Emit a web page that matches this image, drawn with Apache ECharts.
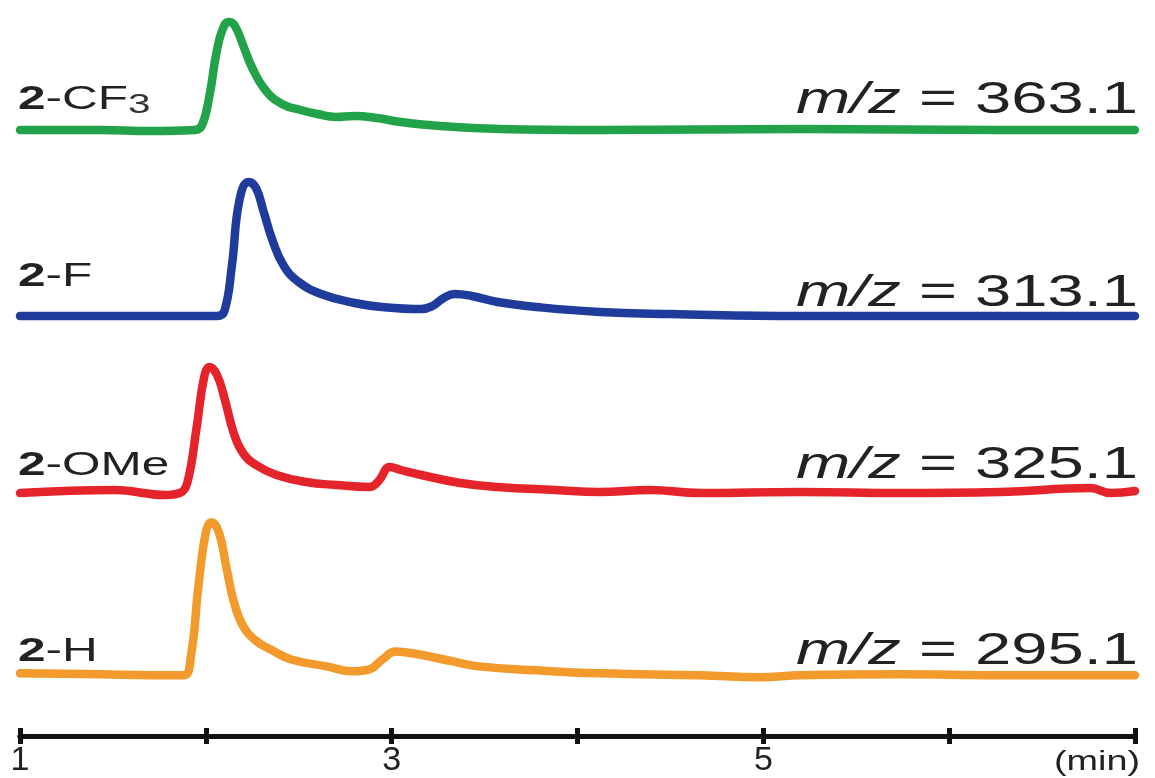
<!DOCTYPE html>
<html>
<head>
<meta charset="utf-8">
<script src="https://cdn.jsdelivr.net/npm/echarts@6/dist/echarts.min.js"></script>
<style>
html, body { margin: 0; background: #fff; }
#main { width: 1155px; height: 778px; }
</style>
</head>
<body>
<div id="main"></div>
<script>
// retention time (min) vs. relative intensity, one trace per compound
var traceCF3 = [[1.00,0],[1.43,0],[1.70,-1],[1.94,0],[1.98,5],[2.02,35],[2.06,80],[2.10,105],[2.13,108],[2.16,103],[2.20,85],[2.25,62],[2.32,40],[2.41,26],[2.51,20],[2.60,16],[2.70,13],[2.80,14],[2.92,12],[3.05,8],[3.26,4],[3.58,1],[4.12,0],[5.20,1],[6.27,0],[7.00,0]];
var traceF = [[1.00,0],[1.60,0],[2.06,0],[2.10,5],[2.14,50],[2.18,115],[2.23,134],[2.27,128],[2.31,105],[2.36,75],[2.42,50],[2.50,34],[2.62,22],[2.80,13],[2.95,9],[3.16,7],[3.22,10],[3.28,18],[3.34,22],[3.43,20],[3.57,14],[3.78,9],[4.12,4],[4.50,2],[5.20,0],[6.00,0],[7.00,0]];
var traceOMe = [[1.00,0],[1.51,3],[1.78,-2],[1.86,0],[1.90,10],[1.95,65],[1.99,115],[2.02,126],[2.06,118],[2.10,95],[2.15,60],[2.20,40],[2.27,28],[2.38,18],[2.54,11],[2.70,8],[2.88,6],[2.93,12],[2.99,26],[3.05,23],[3.16,18],[3.37,10],[3.57,6],[3.88,3],[4.12,1],[4.39,3],[4.66,0],[5.20,1],[5.74,0],[6.27,1],[6.76,5],[6.87,0],[7.00,2]];
var traceH = [[1.00,2],[1.43,1],[1.70,0],[1.88,0],[1.92,20],[1.96,90],[2.00,145],[2.03,155],[2.07,145],[2.11,110],[2.15,75],[2.20,50],[2.27,35],[2.35,26],[2.46,16],[2.65,9],[2.79,4],[2.88,6],[2.95,16],[3.02,24],[3.12,22],[3.33,14],[3.47,9],[3.78,5],[4.12,2],[4.66,0],[4.98,-2],[5.20,0],[5.74,1],[6.27,0],[7.00,0]];

var compoundNames = ['CF', 'F', 'OMe', 'H'];
var mzValues = ['363.1', '313.1', '325.1', '295.1'];
var axisTickLabels = [1, 3, 5];
var axisUnit = '(min)';

var traces = [traceCF3, traceF, traceOMe, traceH];
var colors = ['#22a34a', '#1f3c9c', '#e5232a', '#f29a2b'];
var baselines = [130, 316, 493, 677];
var nameY = [100, 277, 466, 652];
var mzY = [101, 294, 466, 652];
var font = 'Liberation Sans, Arial, sans-serif';

var grids = [], xAxes = [], yAxes = [], series = [], graphics = [];

baselines.forEach(function (b, i) {
    // 1 intensity unit = 1 px; peaks above 130 spill over the grid (clip off)
    grids.push({left: 20, right: 20, top: b - 130, height: 150});
    xAxes.push({gridIndex: i, type: 'value', min: 1, max: 7, show: false});
    yAxes.push({gridIndex: i, type: 'value', min: -20, max: 130, show: false});
    series.push({
        type: 'line',
        xAxisIndex: i,
        yAxisIndex: i,
        data: traces[i],
        showSymbol: false,
        smooth: 0.45,
        clip: false,
        lineStyle: {color: colors[i], width: 8.5, cap: 'round', join: 'round'}
    });

    var nameText = compoundNames[i] === 'CF' ? '{b|2}-CF{s|3}' : '{b|2}-' + compoundNames[i];
    graphics.push({
        type: 'text',
        x: 18, y: nameY[i],
        scaleX: 1.5,
        style: {
            text: nameText,
            fill: '#222',
            fontSize: 33,
            fontFamily: font,
            verticalAlign: 'middle',
            align: 'left',
            rich: {
                b: {fontWeight: 'bold', fontSize: 33, fontFamily: font, fill: '#222'},
                s: {fontSize: 27, fontFamily: font, fill: '#333', padding: [12, 0, 0, 0]}
            }
        }
    });
    graphics.push({
        type: 'text',
        x: 1138, y: mzY[i],
        scaleX: 1.48,
        style: {
            text: '{i|m/z} = ' + mzValues[i],
            fill: '#222',
            fontSize: 44,
            fontFamily: font,
            align: 'right',
            verticalAlign: 'middle',
            rich: {
                i: {fontStyle: 'italic', fontSize: 44, fontFamily: font, fill: '#222'}
            }
        }
    });
});

// visible time axis under the last trace: ticks on both sides of the line
var axisBase = {
    gridIndex: 3, type: 'value', min: 1, max: 7, interval: 1,
    position: 'bottom', offset: 41,
    splitLine: {show: false},
    axisLine: {lineStyle: {color: '#111', width: 5}}
};
xAxes.push(Object.assign({}, axisBase, {
    axisTick: {inside: true, length: 8, lineStyle: {color: '#111', width: 5}},
    axisLabel: {show: false}
}));
xAxes.push(Object.assign({}, axisBase, {
    axisTick: {inside: false, length: 8, lineStyle: {color: '#111', width: 5}},
    axisLabel: {
        fontSize: 34, fontFamily: 'Liberation Sans Narrow, Liberation Sans, sans-serif', color: '#222', margin: 8,
        formatter: function (v) { return axisTickLabels.indexOf(v) >= 0 ? String(v) : ''; }
    }
}));

graphics.push({
    type: 'text',
    x: 1140, y: 762,
    scaleX: 1.35,
    style: {text: axisUnit, fill: '#222', fontSize: 28, fontFamily: font, align: 'right', verticalAlign: 'middle'}
});

var chart = echarts.init(document.getElementById('main'));
chart.setOption({
    backgroundColor: '#fff',
    animation: false,
    grid: grids,
    xAxis: xAxes,
    yAxis: yAxes,
    series: series,
    graphic: graphics
});
</script>
</body>
</html>
